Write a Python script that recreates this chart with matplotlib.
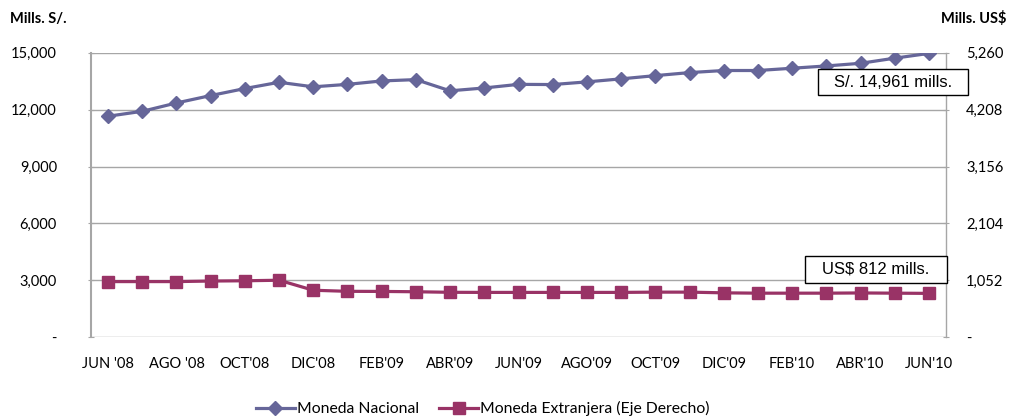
import matplotlib.pyplot as plt
from matplotlib.patches import Rectangle
from matplotlib.ticker import FuncFormatter

plt.rcParams['font.family'] = ['Lato', 'DejaVu Sans']

months = ["JUN '08", "JUL'08", "AGO '08", "SEP'08", "OCT'08", "NOV'08", "DIC'08",
          "ENE'09", "FEB'09", "MAR'09", "ABR'09", "MAY'09", "JUN'09", "JUL'09",
          "AGO'09", "SEP'09", "OCT'09", "NOV'09", "DIC'09", "ENE'10", "FEB'10",
          "MAR'10", "ABR'10", "MAY'10", "JUN'10"]
nacional = [11650, 11910, 12350, 12740, 13110, 13440, 13200, 13330, 13510, 13580,
            12990, 13140, 13330, 13320, 13460, 13620, 13790, 13950, 14060, 14060,
            14180, 14300, 14440, 14710, 14961]
extranjera = [1030, 1030, 1030, 1040, 1045, 1055, 870, 850, 848, 842, 832, 830,
              830, 830, 830, 830, 835, 835, 822, 816, 816, 816, 820, 816, 812]
left_ticks = [0, 3000, 6000, 9000, 12000, 15000]
right_ticks = [0, 1052, 2104, 3156, 4208, 5260]

blue = '#666699'
wine = '#993366'
grid_c = '#a6a6a6'

fig = plt.figure(figsize=(10.14, 4.18), dpi=100)
ax = fig.add_axes([0.0897, 0.193, 0.8433, 0.681])
ax2 = ax.twinx()

x = list(range(len(months)))
l1, = ax.plot(x, nacional, color=blue, lw=2.3, marker='D', ms=7, label='Moneda Nacional')
l2, = ax2.plot(x, extranjera, color=wine, lw=2.3, marker='s', ms=8,
               label='Moneda Extranjera (Eje Derecho)')

ax.set_xlim(-0.5, len(months) - 0.5)
ax.set_ylim(0, 15000)
ax2.set_ylim(0, 5260)
ax.set_yticks(left_ticks)
ax2.set_yticks(right_ticks)
fmt = FuncFormatter(lambda v, p: '-' if v == 0 else f'{v:,.0f}')
ax.yaxis.set_major_formatter(fmt)
ax2.yaxis.set_major_formatter(fmt)
ax.set_xticks(x[::2])
ax.set_xticklabels(months[::2])

ax.grid(axis='y', color=grid_c, lw=1)
ax.set_axisbelow(True)
for a in (ax, ax2):
    for s in a.spines.values():
        s.set_visible(False)
    a.tick_params(axis='y', length=5, color=grid_c, labelsize=10.5, direction='inout')
ax.spines['left'].set_visible(True)
ax.spines['left'].set_color(grid_c)
ax.spines['left'].set_linewidth(1.5)
ax2.spines['right'].set_visible(True)
ax2.spines['right'].set_color(grid_c)
ax2.spines['right'].set_linewidth(1)
ax.tick_params(axis='x', length=0, labelsize=10.5, pad=14)
ax.tick_params(axis='y', pad=22)
ax2.tick_params(axis='y', pad=12)

fig.text(0.01, 0.955, 'Mills. S/.', fontsize=10.5, fontweight='bold', va='center')
fig.text(0.993, 0.955, 'Mills. US$', fontsize=10.5, fontweight='bold', va='center', ha='right')

# callout boxes with the last values
ax2.add_patch(Rectangle((0.850, 0.851), 0.176, 0.091, transform=ax.transAxes,
                        fc='white', ec='black', lw=1, clip_on=False, zorder=5))
ax2.text(0.938, 0.896, f'S/. {nacional[-1]:,} mills.', transform=ax.transAxes,
         ha='center', va='center', fontsize=12, family=['Liberation Sans'], zorder=6)
ax2.add_patch(Rectangle((0.835, 0.192), 0.166, 0.094, transform=ax.transAxes,
                        fc='white', ec='black', lw=1, clip_on=False, zorder=5))
ax2.text(0.918, 0.239, f'US$ {extranjera[-1]} mills.', transform=ax.transAxes,
         ha='center', va='center', fontsize=12, family=['Liberation Sans'], zorder=6)

fig.legend(handles=[l1, l2], loc='lower center', bbox_to_anchor=(0.476, -0.03), ncol=2,
           frameon=False, fontsize=11.3, handlelength=2.5, columnspacing=1.3, handletextpad=0.1)

fig.savefig('out.png', dpi=100)
